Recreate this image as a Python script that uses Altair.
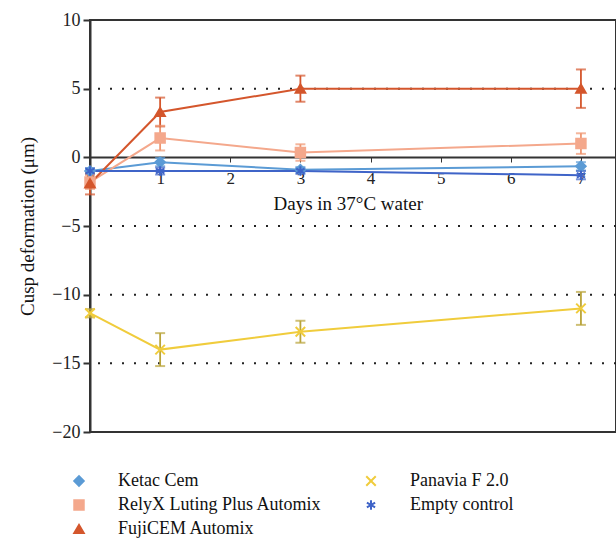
import altair as alt
import pandas as pd

series = ["Ketac Cem", "RelyX Luting Plus Automix", "FujiCEM Automix", "Panavia F 2.0", "Empty control"]
colors = ["#5b9bd5", "#f4a88c", "#d4562c", "#f0cc3c", "#3f64c8"]
err_colors = ["#5b9bd5", "#ef9670", "#d4562c", "#b9a43a", "#3f64c8"]
shapes = ["diamond", "square", "triangle-up", "M-1,-1L1,1M1,-1L-1,1", "M0,-1L0,1M-0.87,-0.5L0.87,0.5M0.87,-0.5L-0.87,0.5"]

days = [0, 1, 3, 7]
ketac = [-1.0, -0.35, -0.9, -0.65]
ketac_err = [0.2, 0.3, 0.2, 0.3]
relyx = [-1.8, 1.4, 0.35, 1.0]
relyx_err = [0.5, 0.9, 0.6, 0.75]
fuji = [-1.9, 3.3, 5.0, 5.0]
fuji_err = [0.8, 1.05, 0.95, 1.4]
panavia = [-11.35, -14.0, -12.7, -11.0]
panavia_err = [0.3, 1.2, 0.8, 1.2]
empty = [-1.0, -1.0, -1.0, -1.3]
empty_err = [0.2, 0.25, 0.2, 0.3]

grid_values = [5, -5, -10, -15]
x_ticks = [0, 1, 2, 3, 4, 5, 6, 7]
y_ticks = [-20, -15, -10, -5, 0, 5, 10]

vals = {
    "Ketac Cem": (ketac, ketac_err),
    "RelyX Luting Plus Automix": (relyx, relyx_err),
    "FujiCEM Automix": (fuji, fuji_err),
    "Panavia F 2.0": (panavia, panavia_err),
    "Empty control": (empty, empty_err),
}
rows = []
for s, (v, e) in vals.items():
    for d, y, er in zip(days, v, e):
        rows.append({"series": s, "day": d, "value": y, "lo": y - er, "hi": y + er})
df = pd.DataFrame(rows)
grid_df = pd.DataFrame({"g": grid_values})

FONT = "Liberation Serif"
xscale = alt.Scale(domain=[0, 7.5], nice=False, zero=False)
yscale = alt.Scale(domain=[-20, 10], nice=False)
cscale = alt.Scale(domain=series, range=colors)
escale = alt.Scale(domain=series, range=err_colors)
sscale = alt.Scale(domain=series, range=shapes)

grid = alt.Chart(grid_df).mark_rule(color="#222", strokeWidth=2, strokeDash=[2, 10]).encode(
    y=alt.Y("g:Q", scale=yscale)
)

lines = alt.Chart(df).mark_line(strokeWidth=2).encode(
    x=alt.X("day:Q", scale=xscale,
            axis=alt.Axis(values=x_ticks, format="d", title="Days in 37°C water", offset=-275,
                          domainColor="#333", domainWidth=2, tickColor="#333", tickSize=5,
                          labelFont=FONT, labelFontSize=17, labelColor="#222", labelPadding=8,
                          titleFont=FONT, titleFontSize=19, titleFontWeight="normal",
                          titleColor="#111", titlePadding=8, titleX=183, titleAnchor="start",
                          grid=False, labelFlush=False)),
    y=alt.Y("value:Q", scale=yscale,
            axis=alt.Axis(values=y_ticks, title="Cusp deformation (μm)",
                          domainColor="#333", domainWidth=2, tickColor="#333", tickSize=7, tickWidth=2,
                          labelFont=FONT, labelFontSize=18, labelColor="#222", labelPadding=3,
                          titleFont=FONT, titleFontSize=19, titleFontWeight="normal",
                          titleColor="#111", titlePadding=14, grid=False)),
    color=alt.Color("series:N", scale=cscale, sort=series, legend=None),
    detail="series:N",
)

err = alt.Chart(df).mark_rule(strokeWidth=1.8).encode(
    x="day:Q", y="lo:Q", y2="hi:Q",
    color=alt.Color("series:N", scale=escale, legend=None),
)
caps_lo = alt.Chart(df).mark_tick(orient="horizontal", size=10, thickness=2).encode(
    x="day:Q", y="lo:Q", color=alt.Color("series:N", scale=escale, legend=None),
)
caps_hi = alt.Chart(df).mark_tick(orient="horizontal", size=10, thickness=2).encode(
    x="day:Q", y="hi:Q", color=alt.Color("series:N", scale=escale, legend=None),
)

leg = alt.Legend(title=None, orient="none", legendX=-20, legendY=452,
                 columns=2, columnPadding=40, rowPadding=6,
                 labelFont=FONT, labelFontSize=18, labelColor="#111",
                 labelOffset=30, symbolSize=90, symbolStrokeWidth=2,
                 labelLimit=400)

points = alt.Chart(df).mark_point(filled=True, size=90, strokeWidth=2, opacity=1).encode(
    x="day:Q", y="value:Q",
    fill=alt.Fill("series:N", scale=cscale, sort=series, legend=leg),
    stroke=alt.Stroke("series:N", scale=cscale, sort=series, legend=None),
    shape=alt.Shape("series:N", scale=sscale, sort=series, legend=leg),
)

chart = alt.layer(grid, lines, err, caps_lo, caps_hi, points).resolve_scale(
    color="independent"
).properties(
    width=526, height=412,
    autosize=alt.AutoSizeParams(type="none"),
    padding={"left": 90, "top": 20, "right": 0, "bottom": 111},
    background="white",
).configure_view(stroke="#333", strokeWidth=2)

chart.save("out.html", embed_options={"renderer": "svg", "actions": False})
